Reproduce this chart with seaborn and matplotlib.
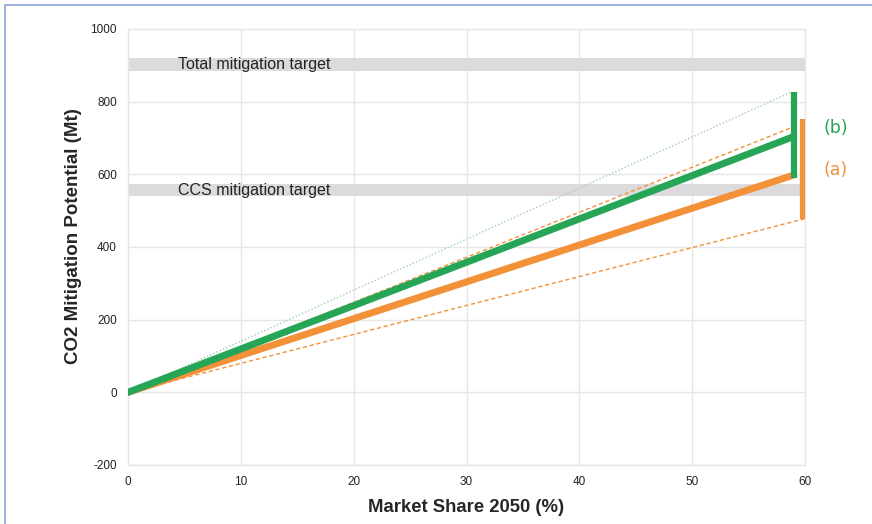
import matplotlib
matplotlib.use("Agg")
import matplotlib.pyplot as plt
import seaborn as sns
import pandas as pd

# ---- data ----
share = [0, 59]
green_main = [0, 704]
orange_main = [0, 598]
green_upper_x = [0, 58.7]
green_upper = [0, 825]
orange_upper = [0, 731]
orange_lower_x = [0, 60]
orange_lower = [0, 478]
green_range = [590, 827]      # vertical bar at x=59
orange_range = [478, 753]     # vertical bar at x=59.8
total_band = [885, 920]
ccs_band = [540, 572]
band_labels = ["Total mitigation target", "CCS mitigation target"]
x_ticks = [0, 10, 20, 30, 40, 50, 60]
y_ticks = [-200, 0, 200, 400, 600, 800, 1000]

GREEN = "#27a556"
ORANGE = "#f29138"
DOT_GREEN = "#9fcfb0"

sns.set_theme(style="white")
plt.rcParams["font.family"] = ["Liberation Sans", "DejaVu Sans"]

fig = plt.figure(figsize=(8.72, 5.24), dpi=100)
ax = fig.add_axes([0.1468, 0.1126, 0.9232 - 0.1468, 0.9447 - 0.1126])

# bands
for band in (total_band, ccs_band):
    ax.axhspan(band[0], band[1], color="#dcdadc", zorder=1, lw=0)
ax.text(11.2, sum(total_band) / 2, band_labels[0], ha="center", va="center",
        fontsize=11.5, color="#222222", zorder=2)
ax.text(11.2, sum(ccs_band) / 2, band_labels[1], ha="center", va="center",
        fontsize=11.5, color="#222222", zorder=2)

# thin lines
sns.lineplot(x=green_upper_x, y=green_upper, ax=ax, color=DOT_GREEN, lw=1.0,
             linestyle=(0, (1, 1.5)), zorder=3)
sns.lineplot(x=share, y=orange_upper, ax=ax, color=ORANGE, lw=1.0,
             linestyle=(0, (3, 2)), zorder=3)
sns.lineplot(x=orange_lower_x, y=orange_lower, ax=ax, color=ORANGE, lw=1.0,
             linestyle=(0, (3, 2)), zorder=3)

# thick lines
sns.lineplot(x=share, y=orange_main, ax=ax, color=ORANGE, lw=5, zorder=4)
sns.lineplot(x=share, y=green_main, ax=ax, color=GREEN, lw=5, zorder=5)

# ranges
ax.vlines(59.0, green_range[0], green_range[1], color=GREEN, lw=4.5, zorder=6)
ax.vlines(59.8, orange_range[0], orange_range[1], color=ORANGE, lw=4.5, zorder=6)

ax.text(62.7, 728, "(b)", color=GREEN, fontsize=12.5, ha="center", va="center",
        clip_on=False, family=["Liberation Sans Narrow", "DejaVu Sans"])
ax.text(62.7, 613, "(a)", color=ORANGE, fontsize=12.5, ha="center", va="center",
        clip_on=False, family=["Liberation Sans Narrow", "DejaVu Sans"])

ax.set_xlim(0, 60)
ax.set_ylim(-200, 1000)
ax.set_xticks(x_ticks)
ax.set_yticks(y_ticks)
ax.set_xticklabels([str(t) for t in x_ticks], fontsize=8.5, color="#222222")
ax.set_yticklabels([str(t) for t in y_ticks], fontsize=8.5, color="#222222")
ax.tick_params(length=0, pad=8)
ax.grid(True, color="#e6e6e6", lw=1.0, zorder=0)
ax.set_axisbelow(True)
for s in ax.spines.values():
    s.set_color("#e6e6e6")
    s.set_linewidth(1.0)

ax.set_xlabel("Market Share 2050 (%)", fontsize=13.3, fontweight="bold", labelpad=8)
ax.set_ylabel("CO2 Mitigation Potential (Mt)", fontsize=13.5, fontweight="bold", labelpad=6)
ax.yaxis.label.set_y(0.525)

# blue frame on left and top
fig.add_artist(plt.Line2D([4.5 / 872, 4.5 / 872], [0, 1 - 5 / 524], color="#8aa3d8", lw=1.2))
fig.add_artist(plt.Line2D([4.5 / 872, 1], [1 - 5 / 524, 1 - 5 / 524], color="#8aa3d8", lw=1.2))

fig.savefig("out.png", dpi=100)
